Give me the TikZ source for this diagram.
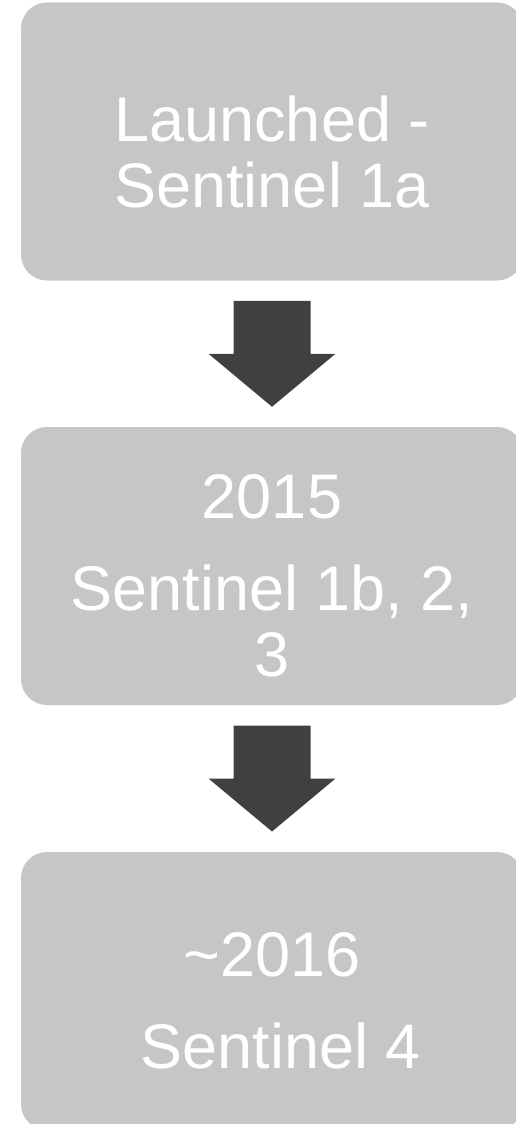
\documentclass[tikz,border=0pt]{standalone}
\usepackage{xcolor}
\usepackage{fontspec}
\setmainfont{Liberation Sans}
\usepackage{tikz}
\usetikzlibrary{calc}
\definecolor{StageGray}{HTML}{C6C6C6}
\definecolor{ArrowCharcoal}{HTML}{404040}
\definecolor{PureWhite}{HTML}{FFFFFF}

\tikzset{
    stagebox/.style={rectangle, fill=StageGray, draw=none, rounded corners=26pt,
        minimum width=502pt, minimum height=278pt, inner sep=0pt},
    stagetext/.style={text=PureWhite, align=center, inner sep=0pt,
        font=\fontsize{63}{66}\selectfont}
}

\begin{document}
\begin{tikzpicture}[x=1pt, y=-1pt]
            \useasboundingbox (0,0) rectangle (516,1124);

            % Stage boxes
            \node[stagebox] (launch) at (272,141.5) {};
            \node[stagebox] (nextwave) at (272,566) {};
            \node[stagebox] (later) at (272,991) {};

            % Stage texts
            \node[stagetext] (launchtext) at ($(launch.center)+(0,10)$) {Launched -\\Sentinel 1a};
            \node[stagetext] (nextwavetext) at ($(nextwave.center)+(0,10)$) {2015\\[26pt]Sentinel 1b, 2,\\3};
            \node[stagetext] (latertext) at ($(later.center)+(0,10)$) {\char"7E 2016\\[26pt]\hspace*{0.278em}Sentinel 4};

            % Block arrows between stages
            \foreach \from/\to in {launch/nextwave, nextwave/later} {
                \coordinate (mid) at ($(\from.south)!0.5!(\to.north)$);
                \fill[ArrowCharcoal] ($(mid)+(-38.5,-53)$) -- ++(77,0) -- ++(0,53) -- ++(25,0)
                    -- ($(mid)+(0,53)$) -- ($(mid)+(-63.5,0)$) -- ++(25,0) -- cycle;
            }
        \end{tikzpicture}
\end{document}
